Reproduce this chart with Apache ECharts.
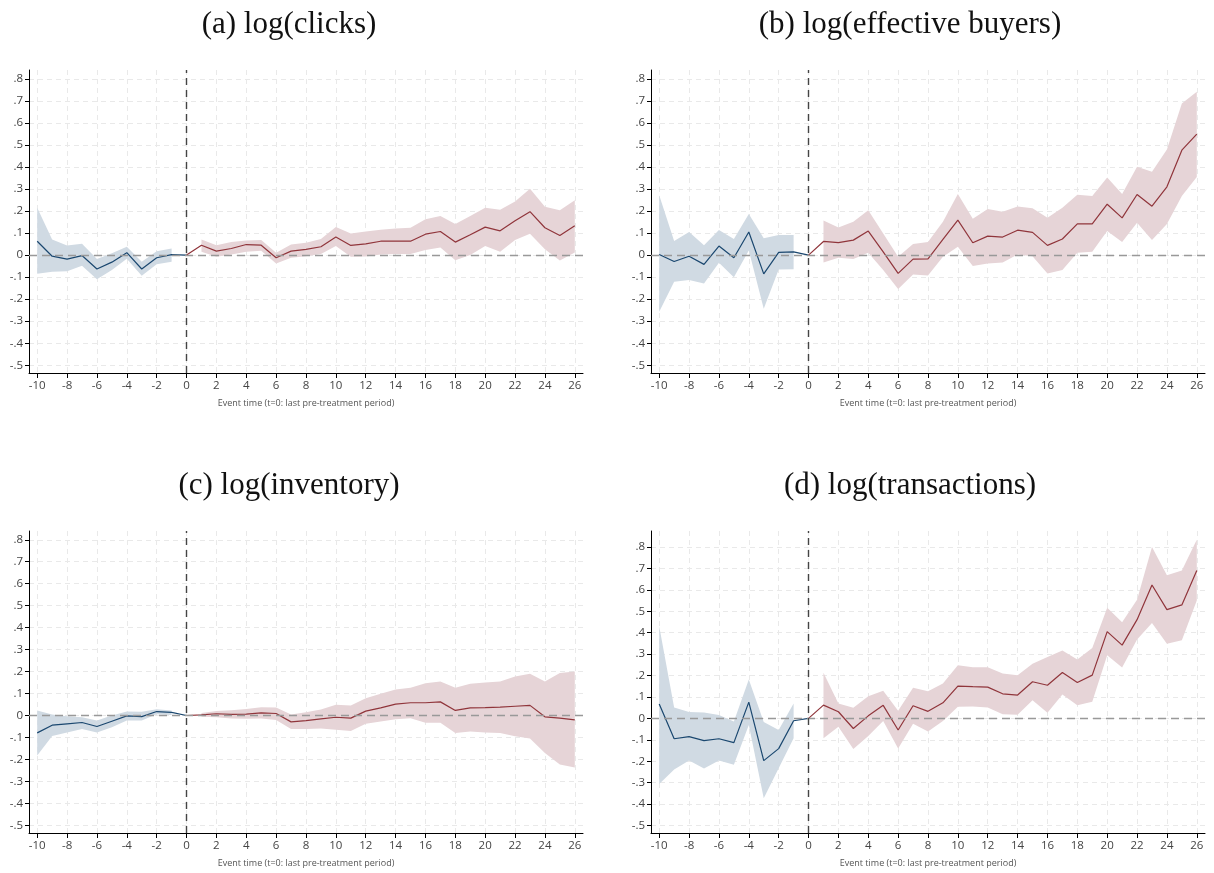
<!DOCTYPE html>
<html>
<head>
<meta charset="utf-8">
<title>Event study estimates</title>
<script src="https://cdn.jsdelivr.net/npm/echarts@6/dist/echarts.min.js"></script>
<style>
  html, body { margin: 0; padding: 0; background: #fff; }
  #chart { width: 1214px; height: 873px; }
</style>
</head>
<body>
<div id="chart"></div>
<script>
// event time, t=0 is the last pre-treatment period
const eventTime = [-10, -9, -8, -7, -6, -5, -4, -3, -2, -1, 0, 1, 2, 3, 4, 5, 6, 7, 8, 9, 10, 11, 12,
  13, 14, 15, 16, 17, 18, 19, 20, 21, 22, 23, 24, 25, 26];
const xTicks = [-10, -8, -6, -4, -2, 0, 2, 4, 6, 8, 10, 12, 14, 16, 18, 20, 22, 24, 26];
const yTicks = [-0.5, -0.4, -0.3, -0.2, -0.1, 0, 0.1, 0.2, 0.3, 0.4, 0.5, 0.6, 0.7, 0.8];
const panelTitles = ["(a) log(clicks)", "(b) log(effective buyers)", "(c) log(inventory)", "(d) log(transactions)"];
const xAxisName = "Event time (t=0: last pre-treatment period)";

// (a) clicks
const clicksCoef = [0.063, -0.005, -0.018, -0.002, -0.063, -0.032, 0.011, -0.063, -0.012, 0.002, 0,
  0.045, 0.018, 0.030, 0.048, 0.045, -0.012, 0.018, 0.026, 0.038, 0.082, 0.044, 0.051, 0.063, 0.063,
  0.063, 0.095, 0.107, 0.059, 0.092, 0.127, 0.110, 0.156, 0.197, 0.124, 0.089, 0.133];
const clicksLo = [-0.085, -0.076, -0.073, -0.048, -0.109, -0.068, -0.017, -0.094, -0.042, -0.030, null,
  0.015, -0.008, 0.003, 0.015, 0.020, -0.038, -0.012, -0.005, 0.005, 0.041, -0.008, -0.006, 0.003, 0.005,
  0.005, 0.023, 0.035, -0.023, 0.000, 0.041, 0.015, 0.068, 0.097, 0.027, -0.024, 0.012];
const clicksHi = [0.215, 0.071, 0.044, 0.051, -0.018, 0.008, 0.038, -0.030, 0.018, 0.030, null,
  0.071, 0.045, 0.060, 0.066, 0.068, 0.011, 0.048, 0.056, 0.073, 0.127, 0.098, 0.107, 0.115, 0.121,
  0.124, 0.163, 0.178, 0.141, 0.178, 0.215, 0.206, 0.243, 0.301, 0.219, 0.204, 0.249];

// (b) effective buyers
const buyersCoef = [0.003, -0.029, -0.005, -0.042, 0.041, -0.012, 0.105, -0.085, 0.012, 0.015, 0,
  0.062, 0.057, 0.068, 0.109, 0.015, -0.083, -0.018, -0.017, 0.071, 0.159, 0.056, 0.086, 0.082, 0.113,
  0.103, 0.044, 0.073, 0.142, 0.142, 0.231, 0.169, 0.275, 0.222, 0.310, 0.476, 0.549];
const buyersLo = [-0.257, -0.121, -0.113, -0.129, -0.035, -0.101, 0.021, -0.244, -0.065, -0.064, null,
  -0.033, -0.012, -0.018, 0.011, -0.068, -0.154, -0.088, -0.092, -0.008, 0.038, -0.050, -0.038, -0.033, 0.003,
  -0.005, -0.083, -0.068, 0.011, 0.015, 0.109, 0.060, 0.147, 0.068, 0.141, 0.268, 0.355];
const buyersHi = [0.272, 0.064, 0.105, 0.045, 0.114, 0.073, 0.186, 0.076, 0.091, 0.091, null,
  0.157, 0.125, 0.151, 0.204, 0.098, -0.008, 0.050, 0.059, 0.151, 0.277, 0.165, 0.209, 0.197, 0.221,
  0.213, 0.169, 0.215, 0.274, 0.268, 0.352, 0.277, 0.401, 0.378, 0.479, 0.688, 0.741];

// (c) inventory
const inventoryCoef = [-0.079, -0.044, -0.038, -0.032, -0.050, -0.026, -0.002, -0.005, 0.018, 0.014, 0,
  0.003, 0.008, 0.005, 0.006, 0.012, 0.009, -0.029, -0.023, -0.015, -0.008, -0.012, 0.020, 0.035, 0.052,
  0.058, 0.058, 0.062, 0.023, 0.035, 0.036, 0.038, 0.042, 0.046, -0.006, -0.012, -0.020];
const inventoryLo = [-0.182, -0.093, -0.077, -0.061, -0.077, -0.053, -0.023, -0.023, 0.006, 0.002, null,
  -0.006, -0.008, -0.014, -0.015, -0.014, -0.020, -0.061, -0.062, -0.059, -0.065, -0.071, -0.038, -0.027, -0.017,
  -0.012, -0.033, -0.033, -0.080, -0.073, -0.077, -0.080, -0.094, -0.105, -0.171, -0.223, -0.237];
const inventoryHi = [0.023, 0.005, -0.003, -0.008, -0.023, 0.000, 0.018, 0.017, 0.029, 0.023, null,
  0.011, 0.021, 0.024, 0.030, 0.038, 0.036, 0.005, 0.015, 0.027, 0.049, 0.046, 0.079, 0.099, 0.118,
  0.126, 0.147, 0.155, 0.126, 0.144, 0.150, 0.155, 0.178, 0.190, 0.155, 0.194, 0.200];

// (d) transactions
const transCoef = [0.067, -0.095, -0.085, -0.104, -0.095, -0.113, 0.076, -0.197, -0.141, -0.011, 0,
  0.062, 0.031, -0.047, 0.012, 0.061, -0.054, 0.059, 0.033, 0.073, 0.151, 0.148, 0.146, 0.115, 0.109,
  0.171, 0.155, 0.214, 0.168, 0.202, 0.405, 0.342, 0.461, 0.623, 0.508, 0.530, 0.691];
const transLo = [-0.306, -0.238, -0.197, -0.234, -0.197, -0.216, -0.031, -0.373, -0.233, -0.093, null,
  -0.093, -0.039, -0.143, -0.082, -0.012, -0.140, -0.025, -0.061, -0.012, 0.054, 0.056, 0.051, 0.019, 0.017,
  0.085, 0.026, 0.112, 0.062, 0.078, 0.295, 0.238, 0.368, 0.446, 0.349, 0.365, 0.551];
const transHi = [0.430, 0.051, 0.030, 0.028, 0.016, -0.014, 0.182, -0.017, -0.054, 0.070, null,
  0.213, 0.070, 0.050, 0.104, 0.129, 0.036, 0.143, 0.127, 0.163, 0.248, 0.239, 0.239, 0.210, 0.202,
  0.255, 0.287, 0.317, 0.275, 0.329, 0.517, 0.449, 0.554, 0.800, 0.668, 0.691, 0.834];

const panels = [
  { coef: clicksCoef, lo: clicksLo, hi: clicksHi },
  { coef: buyersCoef, lo: buyersLo, hi: buyersHi },
  { coef: inventoryCoef, lo: inventoryLo, hi: inventoryHi },
  { coef: transCoef, lo: transLo, hi: transHi },
];

// layout of the 2x2 panels
const layout = [
  { left: 29, top: 70, height: 303, yMax: 0.84, titleX: 289, titleY: 9 },
  { left: 651, top: 70, height: 303, yMax: 0.84, titleX: 910, titleY: 9 },
  { left: 29, top: 531, height: 302, yMax: 0.84, titleX: 289, titleY: 470 },
  { left: 651, top: 531, height: 302, yMax: 0.875, titleX: 910, titleY: 470 },
];

const blueLine = "#1a476f";
const blueBand = "#d0dae3";
const redLine = "#90353b";
const redBand = "#e6d4d7";
const tickFont = "'Open Sans', 'Noto Sans', sans-serif";

const fmtY = (v) => {
  if (Math.abs(v) < 1e-9) return "0";
  return (v < 0 ? "-" : "") + Math.abs(v).toFixed(1).replace(/^0/, "");
};

// confidence band as one polygon: lower bound forward, upper bound back
const bandSeries = (i, data, color) => ({
  type: "custom",
  xAxisIndex: i,
  yAxisIndex: i,
  data,
  silent: true,
  z: 1,
  encode: { x: 0, y: [1, 2] },
  renderItem: (params, api) => {
    if (params.dataIndex !== 0) return null;
    const lower = data.map((d) => api.coord([d[0], d[1]]));
    const upper = data.map((d) => api.coord([d[0], d[2]])).reverse();
    return {
      type: "polygon",
      shape: { points: lower.concat(upper) },
      style: { fill: color },
    };
  },
});

const grids = [], xAxes = [], yAxes = [], titles = [], series = [];

layout.forEach((g, i) => {
  grids.push({ left: g.left, top: g.top, width: 554, height: g.height, containLabel: false });
  titles.push({
    text: panelTitles[i],
    left: g.titleX,
    top: g.titleY,
    padding: 0,
    textAlign: "center",
    textStyle: { fontFamily: "'Liberation Serif', 'DejaVu Serif', serif", fontSize: 31, fontWeight: "normal", color: "#111" },
  });
  xAxes.push({
    type: "value",
    gridIndex: i,
    min: -10.55,
    max: 26.55,
    name: xAxisName,
    nameLocation: "middle",
    nameGap: 26,
    nameTextStyle: { fontFamily: tickFont, fontSize: 9, color: "#555" },
    axisLine: { show: true, onZero: false, lineStyle: { color: "#000", width: 1 } },
    axisTick: { show: true, length: 5, customValues: xTicks, lineStyle: { color: "#000" } },
    axisLabel: { customValues: xTicks, color: "#444", fontFamily: tickFont, fontSize: 11.5, margin: 7 },
    splitLine: { show: true, lineStyle: { color: "#e9e9e9", type: [5, 4], width: 1 } },
  });
  yAxes.push({
    type: "value",
    gridIndex: i,
    min: -0.535,
    max: g.yMax,
    axisLine: { show: true, onZero: false, lineStyle: { color: "#000", width: 1 } },
    axisTick: { show: true, length: 4, customValues: yTicks, lineStyle: { color: "#000" } },
    axisLabel: { customValues: yTicks, formatter: fmtY, color: "#444", fontFamily: tickFont, fontSize: 11.5, margin: 6 },
    splitLine: { show: true, lineStyle: { color: "#e9e9e9", type: [5, 4], width: 1 } },
  });

  const p = panels[i];
  const preBand = [], postBand = [], preLine = [], postLine = [];
  eventTime.forEach((t, k) => {
    if (t <= 0) preLine.push([t, p.coef[k]]);
    if (t >= 0) postLine.push([t, p.coef[k]]);
    if (p.lo[k] == null) return;
    (t < 0 ? preBand : postBand).push([t, p.lo[k], p.hi[k]]);
  });

  series.push(bandSeries(i, preBand, blueBand));
  series.push({
    ...bandSeries(i, postBand, redBand),
    markLine: {
      silent: true,
      symbol: "none",
      label: { show: false },
      data: [
        { yAxis: 0, lineStyle: { color: "#999", type: [8, 5], width: 1.4 } },
        { xAxis: 0, lineStyle: { color: "#444", type: [7, 5], width: 1.4 } },
      ],
    },
  });
  series.push({
    type: "line", xAxisIndex: i, yAxisIndex: i, data: preLine, symbol: "none", silent: true, z: 3,
    lineStyle: { color: blueLine, width: 1.2 },
  });
  series.push({
    type: "line", xAxisIndex: i, yAxisIndex: i, data: postLine, symbol: "none", silent: true, z: 3,
    lineStyle: { color: redLine, width: 1.2 },
  });
});

const chart = echarts.init(document.getElementById("chart"), null, { renderer: "canvas" });
chart.setOption({
  backgroundColor: "#fff",
  animation: false,
  title: titles,
  grid: grids,
  xAxis: xAxes,
  yAxis: yAxes,
  series,
});
</script>
</body>
</html>
